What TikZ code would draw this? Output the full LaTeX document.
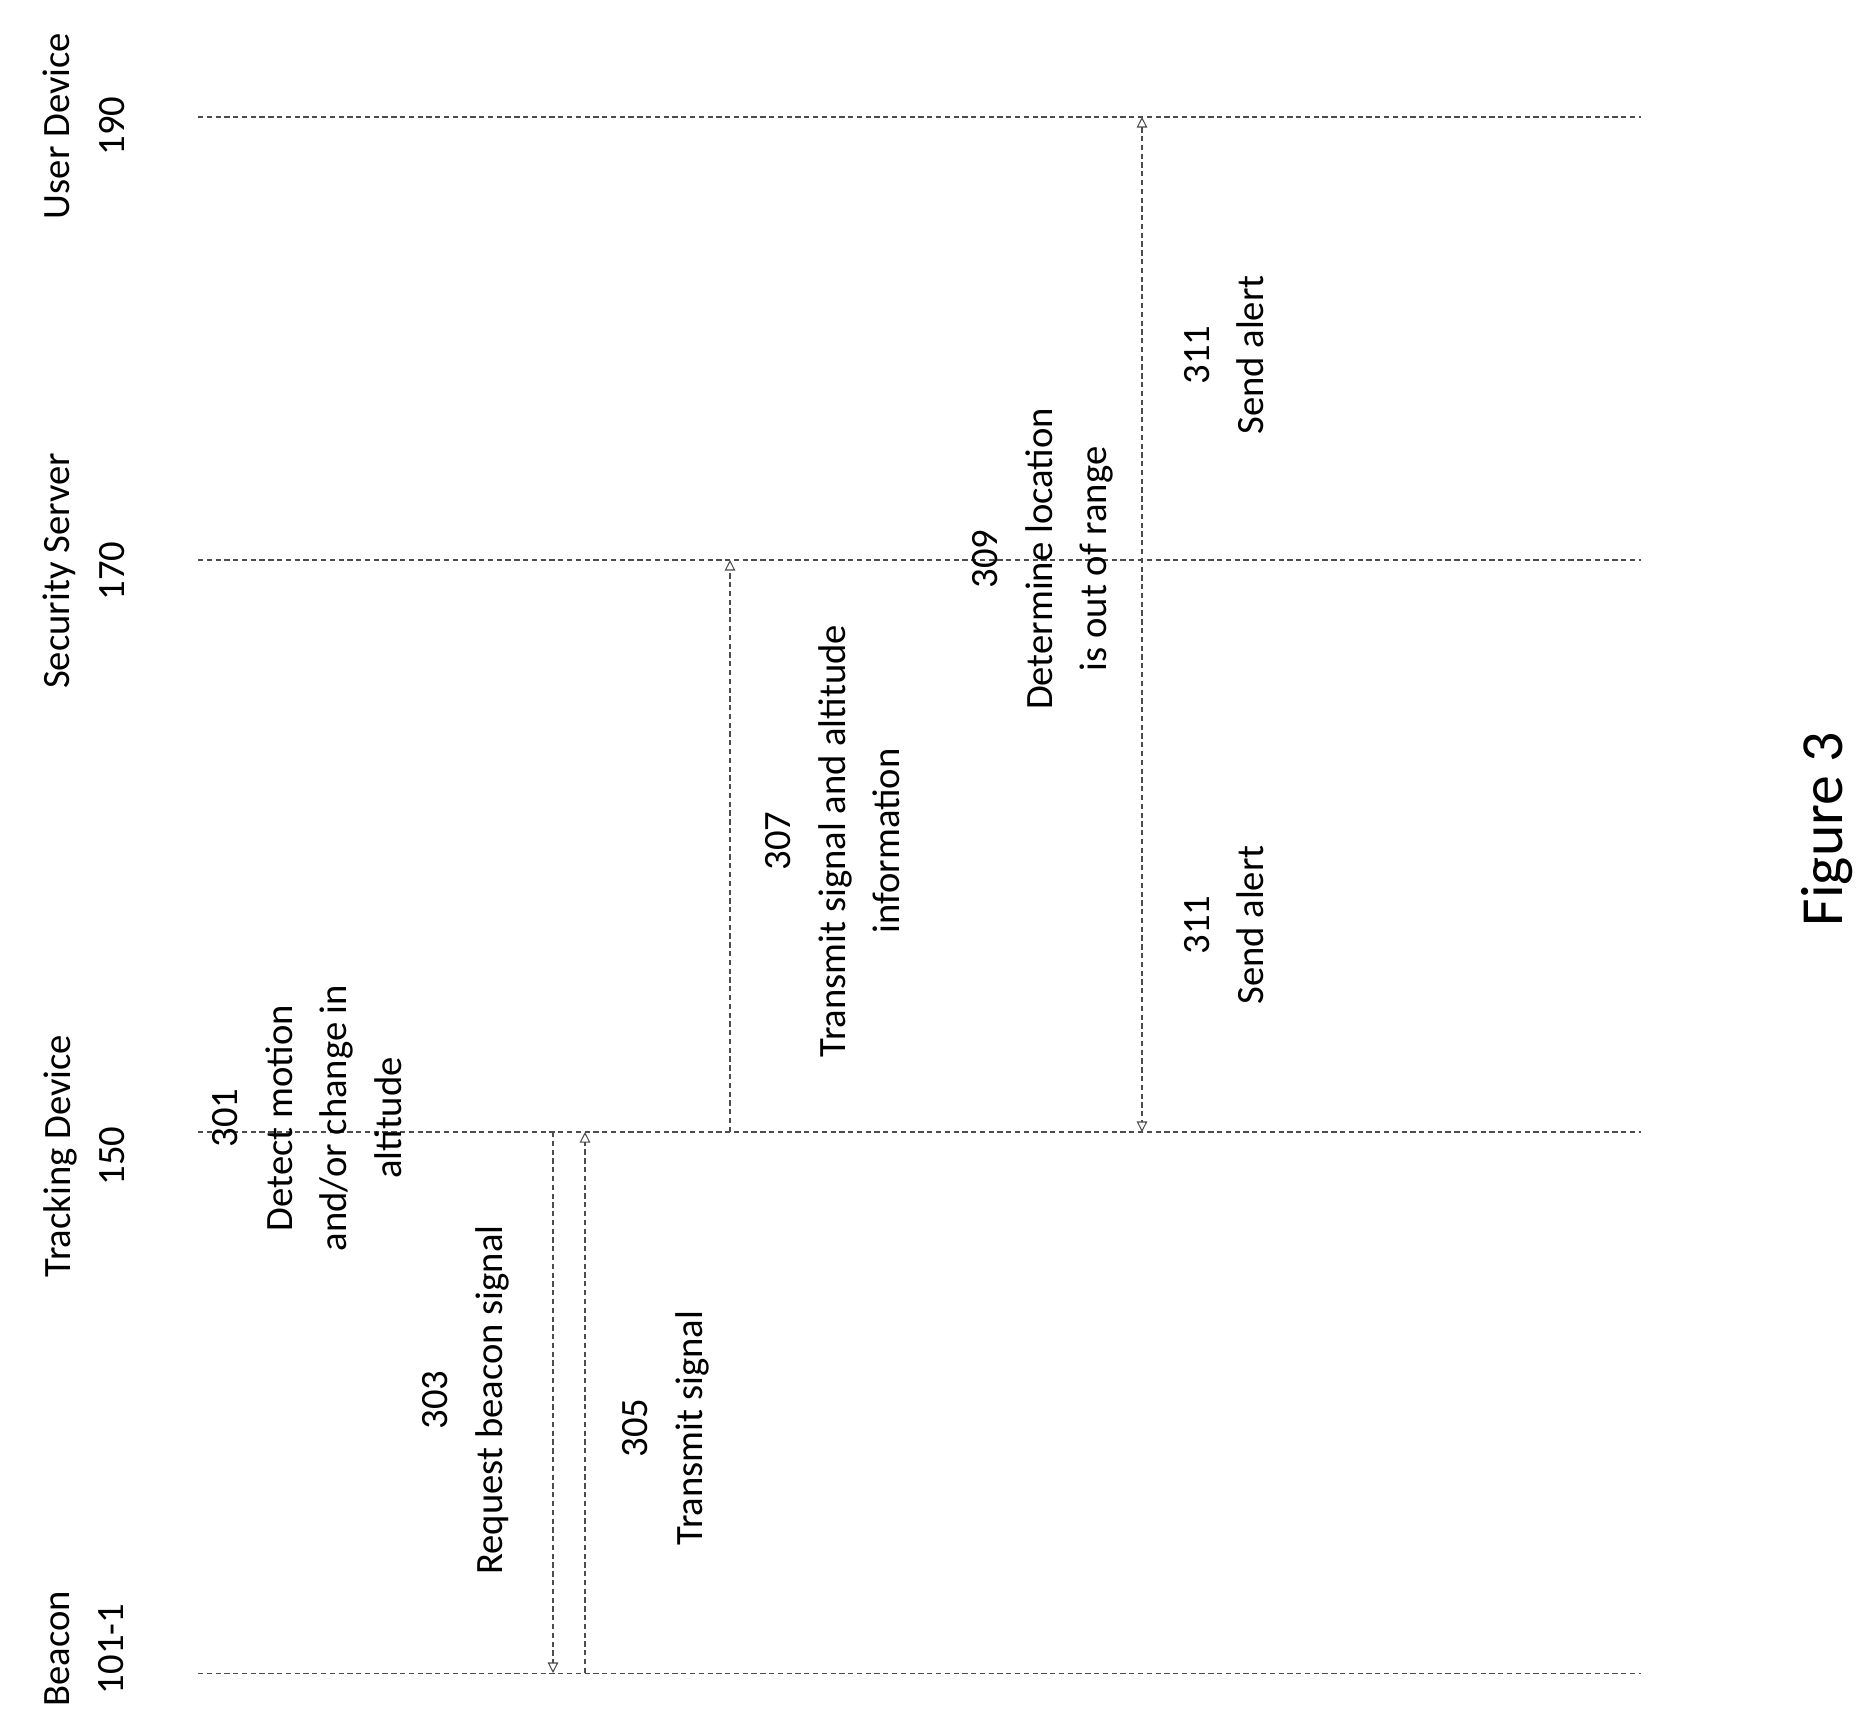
\documentclass[tikz,border=0pt]{standalone}
\usepackage{fontspec}
\setmainfont{Carlito}
\usetikzlibrary{arrows.meta}
\tikzset{
  life/.style={draw=black!70, densely dashed, line width=0.6pt},
  msg/.style={draw=black!70, densely dashed, line width=0.6pt, {Triangle[open,length=6pt,width=6pt]}-{Triangle[open,length=6pt,width=6pt]}},
  lbl/.style={rotate=90, align=center, font=\fontsize{22}{31}\selectfont, inner sep=0pt},
}
\begin{document}
\begin{tikzpicture}[x=0.02cm, y=-0.02cm]
    \useasboundingbox (0,0) rectangle (1875,1731);
    % lifelines
    \coordinate (UDa) at (198,117);  \coordinate (UDb) at (1641,117);
    \coordinate (SSa) at (198,560);  \coordinate (SSb) at (1641,560);
    \coordinate (TDa) at (198,1132); \coordinate (TDb) at (1641,1132);
    \coordinate (BCa) at (198,1673); \coordinate (BCb) at (1641,1673);
    \draw [life] (UDa) -- (UDb);
    \draw [life] (SSa) -- (SSb);
    \draw [life] (TDa) -- (TDb);
    \draw [life] (BCa) -- (BCb);

    \node [lbl] (ud) at (84,126)  {User Device\\190};
    \node [lbl] (ss) at (84,571)  {Security Server\\170};
    \node [lbl] (td) at (84,1156) {Tracking Device\\150};
    \node [lbl] (bc) at (84,1649) {Beacon\\101-1};

    % messages
    \coordinate (m303a) at (553,1132); \coordinate (m303b) at (553,1673);
    \coordinate (m305a) at (585,1673); \coordinate (m305b) at (585,1132);
    \coordinate (m307a) at (730,1132); \coordinate (m307b) at (730,560);
    \coordinate (m311a) at (1142,117); \coordinate (m311b) at (1142,1132);
    \draw [msg, {-Triangle[open,length=6pt,width=6pt]}] (m303a) -- (m303b);
    \draw [msg, {-Triangle[open,length=6pt,width=6pt]}] (m305a) -- (m305b);
    \draw [msg, {-Triangle[open,length=6pt,width=6pt]}] (m307a) -- (m307b);
    \draw [msg] (m311a) -- (m311b);

    \node [lbl] (s301) at (307,1118)  {301\\Detect motion\\and/or change in\\altitude};
    \node [lbl] (s303) at (466,1400)  {303\\Request beacon signal};
    \node [lbl] (s305) at (666,1428)  {305\\Transmit signal};
    \node [lbl] (s307) at (833,841)   {307\\Transmit signal and altitude\\information};
    \node [lbl] (s309) at (1043,559)  {309\\Determine location\\is out of range};
    \node [lbl] (s311u) at (1224,355) {311\\Send alert};
    \node [lbl] (s311l) at (1224,925) {311\\Send alert};

    \node [rotate=90, font=\fontsize{34}{40}\selectfont] (fig) at (1827,829) {Figure 3};
\end{tikzpicture}
\end{document}
